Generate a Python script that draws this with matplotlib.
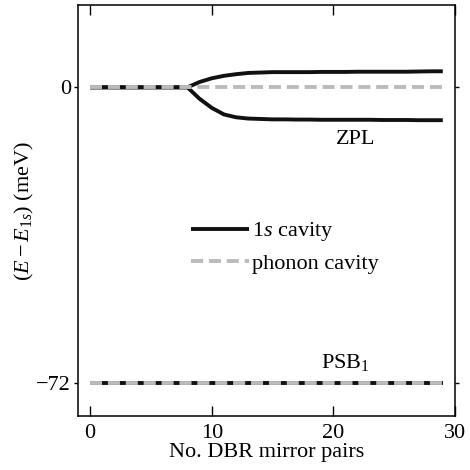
import numpy as np
import matplotlib
matplotlib.use('Agg')
import matplotlib.pyplot as plt

plt.rcParams['font.family'] = ['Liberation Serif', 'DejaVu Serif']
plt.rcParams['mathtext.fontset'] = 'custom'
plt.rcParams['mathtext.rm'] = 'Liberation Serif'
plt.rcParams['mathtext.it'] = 'Liberation Serif:italic'

# DBR mirror pairs
pairs = np.arange(0, 30)
# 1s cavity branches (meV), split above 8 pairs
upper = [0, 0, 0, 0, 0, 0, 0, 0, 0, 1.3, 2.2, 2.8, 3.2, 3.5, 3.6, 3.7, 3.7, 3.7, 3.7, 3.75,
         3.75, 3.75, 3.8, 3.8, 3.8, 3.8, 3.8, 3.85, 3.9, 3.9]
lower = [0, 0, 0, 0, 0, 0, 0, 0, 0, -2.8, -5.0, -6.6, -7.3, -7.6, -7.7, -7.8, -7.8, -7.85, -7.85, -7.9,
         -7.9, -7.9, -7.9, -7.9, -7.95, -7.95, -7.95, -8.0, -8.0, -8.0]
psb_1s = [-72] * 30
zpl_phonon = [0] * 30
psb_phonon = [-72] * 30

fs = 16
fig = plt.figure(figsize=(4.7, 4.7), dpi=100)
ax = fig.add_axes([0.166, 0.115, 0.802, 0.874])

lw = 2.8
ax.plot(pairs, upper, color='#111111', lw=lw, solid_capstyle='butt', label='1$s$ cavity')
ax.plot(pairs, lower, color='#111111', lw=lw, solid_capstyle='butt')
ax.plot(pairs, psb_1s, color='#111111', lw=lw, solid_capstyle='butt')
ax.plot(pairs, zpl_phonon, color='#bbbbbb', lw=lw, dashes=(3.1, 1.5), label='phonon cavity')
ax.plot(pairs, psb_phonon, color='#bbbbbb', lw=lw, dashes=(3.1, 1.5))

ax.text(21.8, -12.8, 'ZPL', fontsize=fs, ha='center', va='center')
ax.text(21.0, -67.0, 'PSB$_1$', fontsize=fs, ha='center', va='center')

ax.set_xlim(-1, 30)
ax.set_ylim(-80, 20)
ax.set_xticks([0, 10, 20, 30])
ax.set_yticks([0, -72])
ax.tick_params(axis='x', direction='in', length=7, width=1, top=True, labelsize=fs, pad=6)
ax.tick_params(axis='y', direction='out', length=3, width=1, right=True, labelsize=fs, pad=2)
for s in ax.spines.values():
    s.set_linewidth(1.1)

ax.set_xlabel('No. DBR mirror pairs', fontsize=fs, labelpad=0)
ax.set_ylabel('$(E-E_{1s})$ (meV)', fontsize=fs, labelpad=0)

ax.legend(loc='upper left', bbox_to_anchor=(0.3, 0.476), frameon=False, fontsize=fs,
          handlelength=2.6, handletextpad=0.15, borderpad=0, borderaxespad=0, labelspacing=0.45)

fig.savefig('out.png', dpi=100)
